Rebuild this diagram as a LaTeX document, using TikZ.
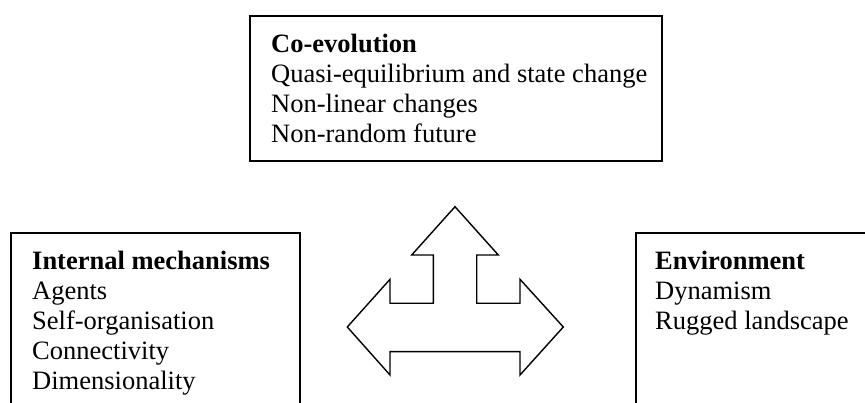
\documentclass[tikz,border=0pt]{standalone}
\usepackage{fontspec}
\setmainfont{Liberation Serif}
\begin{document}
\begin{tikzpicture}[x=1pt,y=-1pt,
  panel/.style={draw=black,line width=2pt,inner sep=0pt,anchor=north west},
  listtext/.style={inner sep=0pt,anchor=north west,align=left,
    font=\fontsize{26.5}{30}\selectfont},
  arrowshape/.style={draw=black,line width=1.4pt,line join=miter}]
  \useasboundingbox (0,0) rectangle (865,403);
  \clip (0,0) rectangle (865,403);

  % three panels; the lower two run past the page edge
  \node[panel,minimum width=412pt,minimum height=145pt] (coevo) at (249,15) {};
  \node[panel,minimum width=289pt,minimum height=260pt] (internal) at (10,232) {};
  \node[panel,minimum width=289pt,minimum height=260pt] (environment) at (635,232) {};

  \node[listtext] (coevotext) at ([shift={(22,19)}]coevo.north west)
    {\textbf{Co-evolution}\\Quasi-equilibrium and state change\\Non-linear changes\\Non-random future};
  \node[listtext] (internaltext) at ([shift={(22,19)}]internal.north west)
    {\textbf{Internal mechanisms}\\Agents\\Self-organisation\\Connectivity\\Dimensionality};
  \node[listtext] (environmenttext) at ([shift={(20,19)}]environment.north west)
    {\textbf{Environment}\\Dynamism\\Rugged landscape};

  % three-way block arrow
  \draw[arrowshape]
    (455,206.7) -- (498.3,255) -- (476.7,255) -- (476.7,303.3) -- (520,303.3)
    -- (520,279.3) -- (563.3,327) -- (520,375) -- (520,351.7) -- (390,351.7)
    -- (390,375) -- (347.3,327) -- (390,279.3) -- (390,303.3) -- (433.3,303.3)
    -- (433.3,255) -- (411.7,255) -- cycle;
\end{tikzpicture}
\end{document}
